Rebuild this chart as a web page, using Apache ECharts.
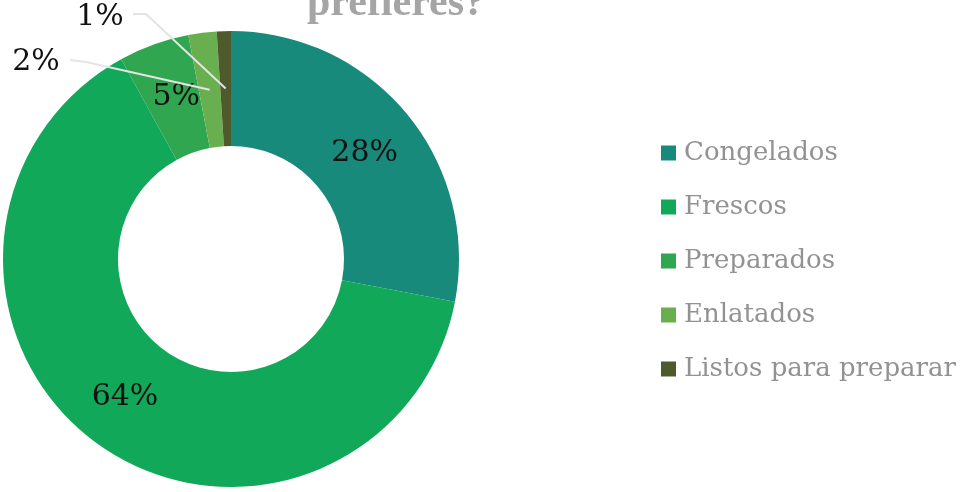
<!DOCTYPE html>
<html>
<head>
<meta charset="utf-8">
<script src="https://cdn.jsdelivr.net/npm/echarts@6/dist/echarts.min.js"></script>
<style>html,body{margin:0;padding:0;background:#fff}#c{width:971px;height:492px}</style>
</head>
<body>
<div id="c"></div>
<script>
const categories = ['Congelados', 'Frescos', 'Preparados', 'Enlatados', 'Listos para preparar'];
const values = [28, 64, 5, 2, 1];
const colors = ['#178A7C', '#12A85A', '#2FA64F', '#6AAF4F', '#4E5A2C'];
const titleText = 'prefieres?';

const font = '"DejaVu Serif", "Liberation Serif", serif';
const CX = 231, CY = 259, R0 = 113, R1 = 228;
const chart = echarts.init(document.getElementById('c'), null, {renderer: 'canvas'});

// start point of a leader line: middle of the ring at the slice's mid angle (derived from the data)
const total = values.reduce((a, b) => a + b, 0);
function midRingPoint(idx) {
  let before = 0;
  for (let i = 0; i < idx; i++) before += values[i];
  const frac = (before + values[idx] / 2) / total;
  const ang = (90 - 360 * frac) * Math.PI / 180;
  const r = (R0 + R1) / 2;
  return [CX + r * Math.cos(ang), CY - r * Math.sin(ang)];
}

const mainData = categories.map((n, i) => ({
  name: n, value: values[i], itemStyle: {color: colors[i]},
  label: {show: i < 3}
}));
const guideData = categories.map((n, i) => ({
  name: n, value: values[i],
  label: {show: i >= 3}, labelLine: {show: i >= 3}
}));

chart.setOption({
  backgroundColor: '#fff',
  animation: false,
  title: {
    text: titleText, left: 302, top: -22,
    textStyle: {fontFamily: '"Liberation Serif", serif', fontSize: 42, fontWeight: 'bold', color: '#a5a5a5'}
  },
  legend: {
    orient: 'vertical', left: 656, top: 135,
    itemWidth: 15, itemHeight: 15, itemGap: 28, icon: 'rect',
    data: categories,
    textStyle: {fontFamily: font, fontSize: 26, color: '#929292', lineHeight: 26, padding: [0,0,0,3]}
  },
  series: [{
    type: 'pie', center: [CX, CY], radius: [R0, R1],
    startAngle: 90, clockwise: true, silent: true,
    data: mainData,
    label: {position: 'inside', formatter: '{c}%', fontFamily: font, fontSize: 30, color: '#111'},
    labelLayout: function (p) {
      if (p.dataIndex === 0) return {dx: 0, dy: 5};
      if (p.dataIndex === 1) return {dx: -4, dy: -2};
      if (p.dataIndex === 2) return {dx: 4, dy: 1};
      return {};
    },
    labelLine: {show: false}
  }, {
    type: 'pie', center: [CX, CY], radius: [R0, R1],
    startAngle: 90, clockwise: true, silent: true, z: 3,
    itemStyle: {color: 'rgba(0,0,0,0)'},
    data: guideData,
    label: {position: 'outside', formatter: '{c}%', fontFamily: font, fontSize: 30, color: '#111'},
    labelLine: {show: true, length: 20, length2: 12, lineStyle: {color: '#e4e4e4', width: 2}},
    labelLayout: function (p) {
      if (p.dataIndex === 3) return {x: 36, y: 62, align: 'center', verticalAlign: 'middle',
        labelLinePoints: [midRingPoint(3), [86, 62], [70, 60]]};
      if (p.dataIndex === 4) return {x: 100, y: 17, align: 'center', verticalAlign: 'middle',
        labelLinePoints: [midRingPoint(4), [146, 14], [133, 14]]};
      return {};
    }
  }]
});
</script>
</body>
</html>
